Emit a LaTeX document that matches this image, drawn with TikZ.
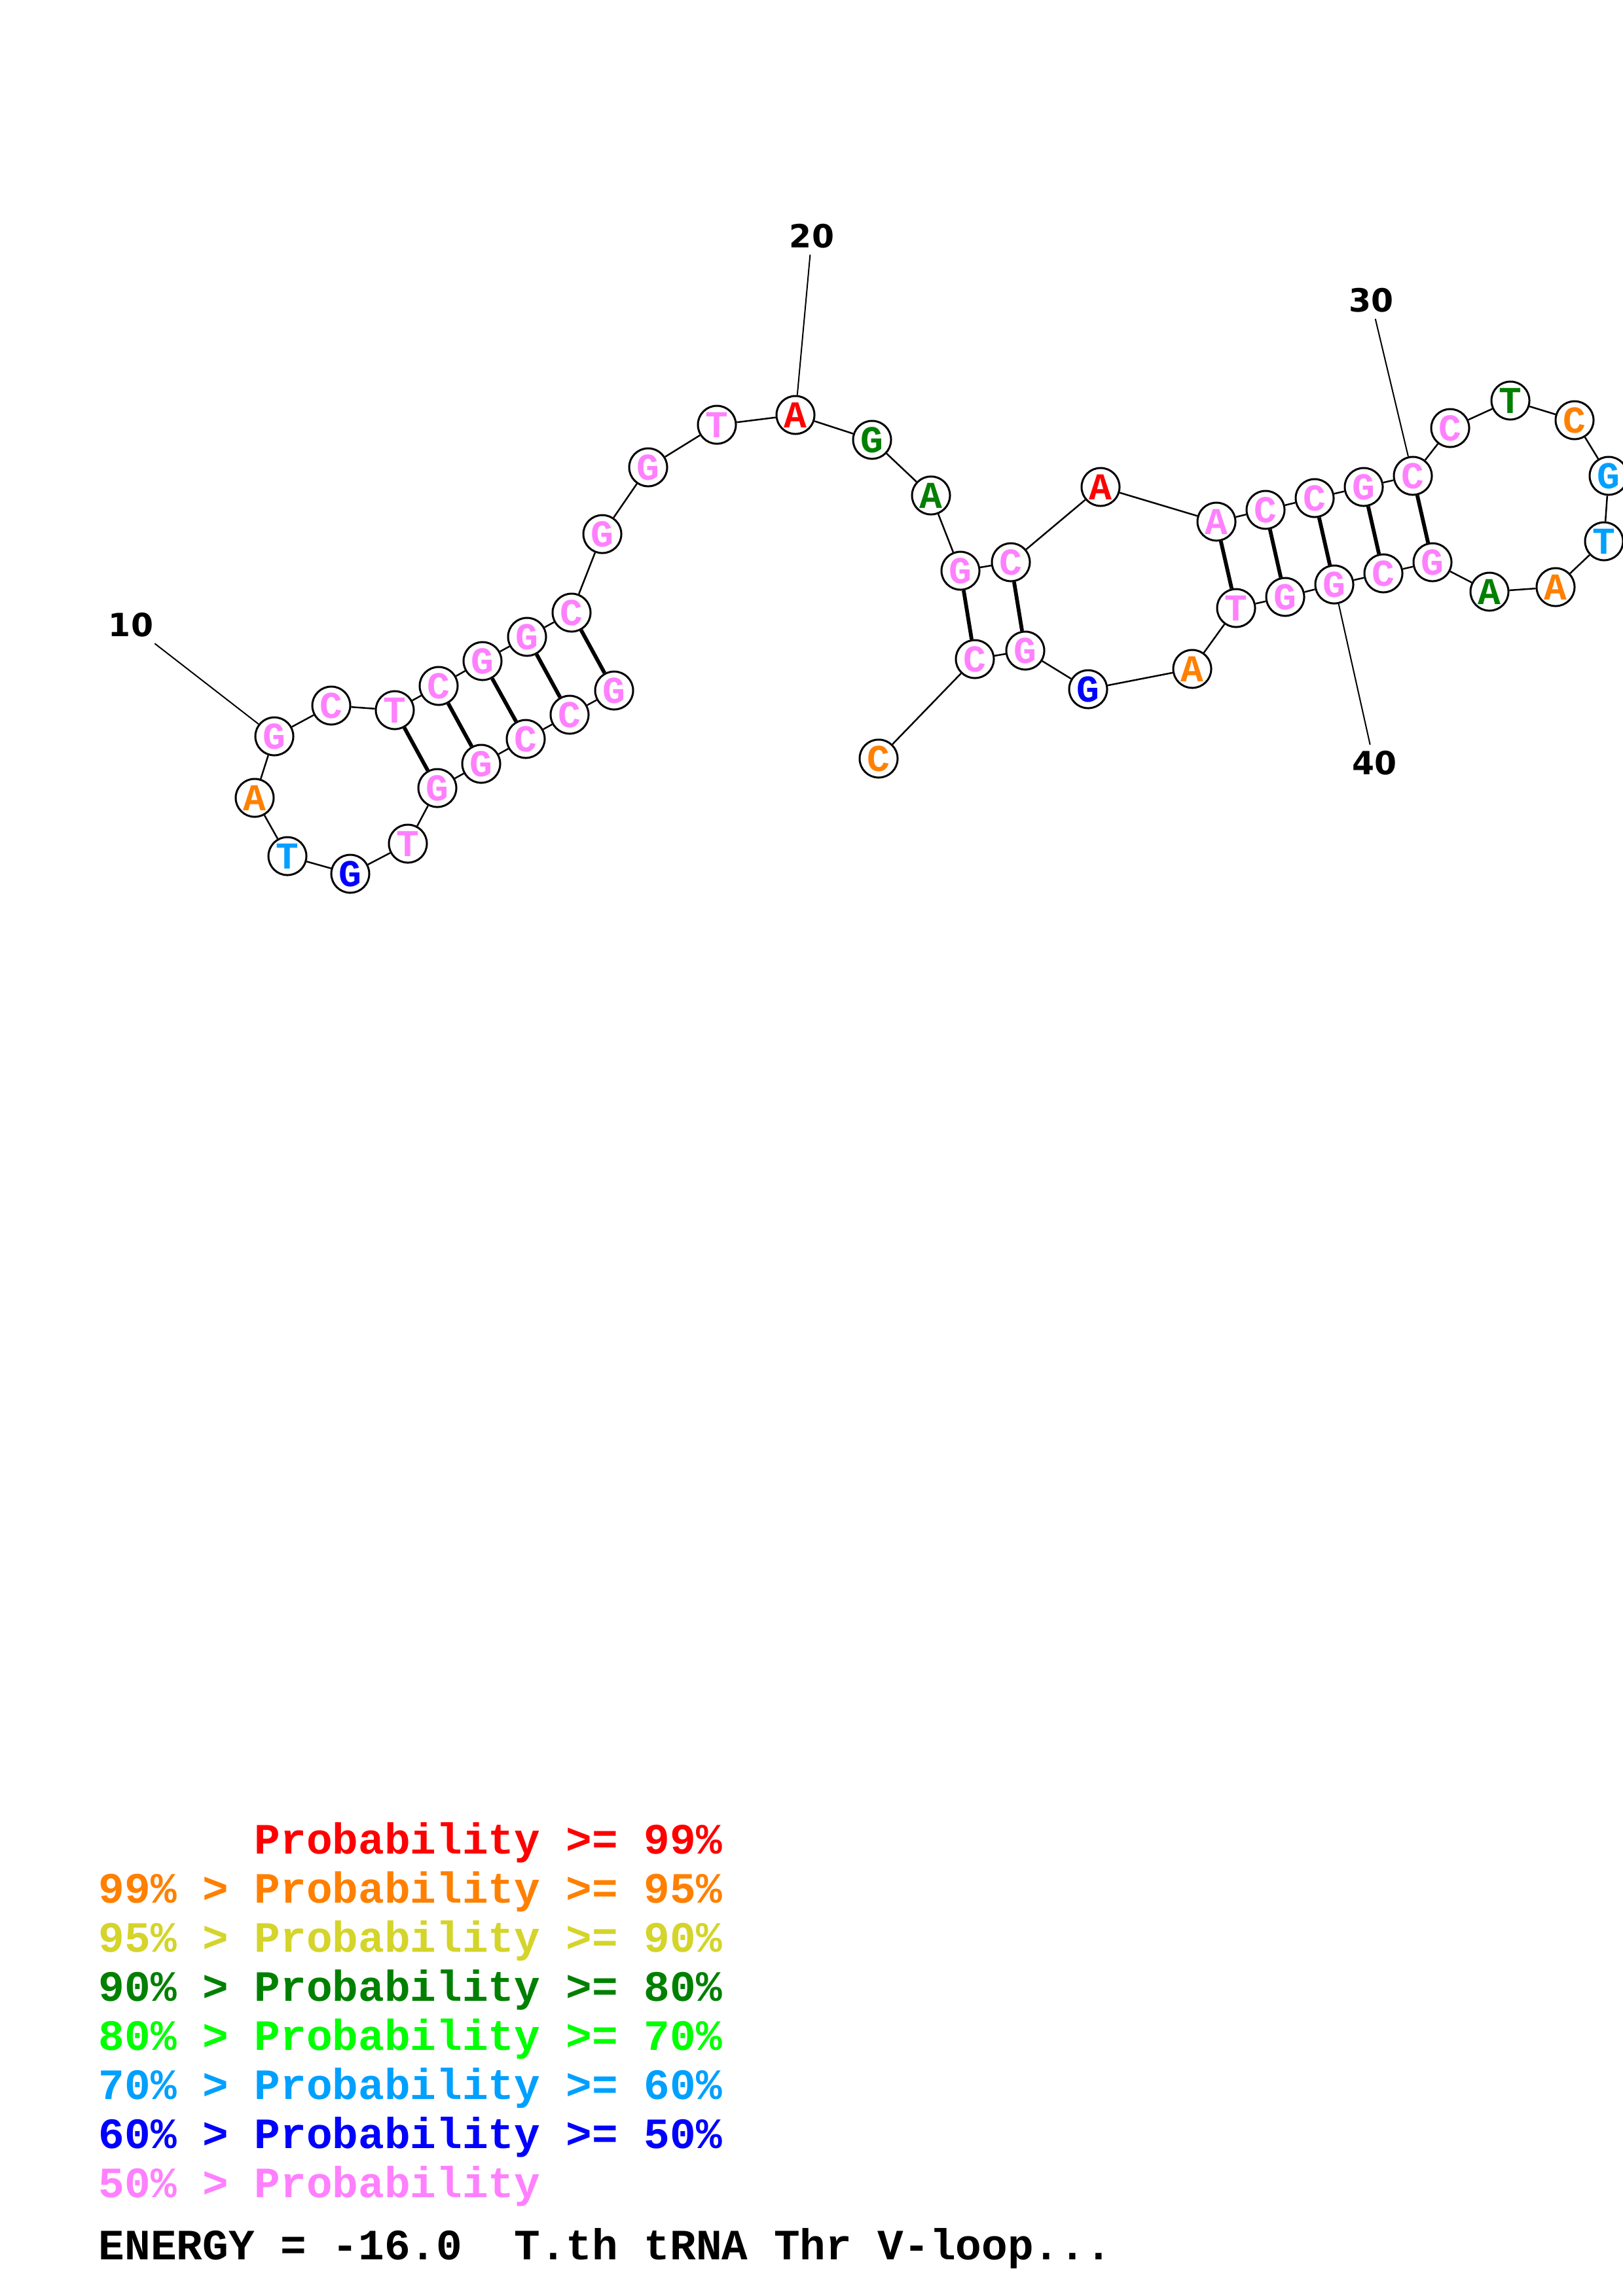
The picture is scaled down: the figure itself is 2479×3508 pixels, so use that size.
\documentclass[tikz,border=0pt]{standalone}
\usepackage{fontspec}
\newfontfamily\seqfont{Liberation Mono}
\newfontfamily\tickfont{DejaVu Sans}

\definecolor{probRed}{RGB}{255,0,0}
\definecolor{probOrange}{RGB}{255,128,0}
\definecolor{probYellow}{RGB}{212,212,42}
\definecolor{probDkGreen}{RGB}{0,128,0}
\definecolor{probGreen}{RGB}{0,255,0}
\definecolor{probCyan}{RGB}{0,160,255}
\definecolor{probBlue}{RGB}{0,0,255}
\definecolor{probPink}{RGB}{255,128,255}

\begin{document}
\begin{tikzpicture}[
    x=0.01cm, y=-0.01cm,
    nuc/.style={circle, draw=black, fill=white, line width=0.03cm, minimum size=0.58cm, inner sep=0pt, font=\seqfont\bfseries\fontsize{16.5}{17}\selectfont},
    backbone/.style={line width=0.025cm},
    pairline/.style={line width=0.058cm},
    numline/.style={line width=0.02cm},
    num/.style={inner sep=0.09cm, font=\tickfont\bfseries\fontsize{13.9}{14}\selectfont},
    legendline/.style={anchor=base west, inner sep=0pt, font=\seqfont\bfseries\fontsize{18.8}{19}\selectfont}
]

\useasboundingbox (0,0) rectangle (2479,3508);
\clip (0,0) rectangle (2479,3508);

% Nodes: left stem and hairpin
\node[nuc, text=probPink] (nt1) at (938,1055) {G};
\node[nuc, text=probPink] (nt2) at (870,1092) {C};
\node[nuc, text=probPink] (nt3) at (803,1129) {C};
\node[nuc, text=probPink] (nt4) at (735,1167) {G};
\node[nuc, text=probPink] (nt5) at (668,1204) {G};
\node[nuc, text=probPink] (nt6) at (623,1289) {T};
\node[nuc, text=probBlue] (nt7) at (535,1335) {G};
\node[nuc, text=probCyan] (nt8) at (439,1308) {T};
\node[nuc, text=probOrange] (nt9) at (389,1219) {A};
\node[nuc, text=probPink] (nt10) at (419,1125) {G};
\node[nuc, text=probPink] (nt11) at (506,1078) {C};
\node[nuc, text=probPink] (nt12) at (603,1085) {T};
\node[nuc, text=probPink] (nt13) at (670,1048) {C};
\node[nuc, text=probPink] (nt14) at (737,1010) {G};
\node[nuc, text=probPink] (nt15) at (805,973) {G};
\node[nuc, text=probPink] (nt16) at (873,936) {C};

% Nodes: top loop
\node[nuc, text=probPink] (nt17) at (920,816) {G};
\node[nuc, text=probPink] (nt18) at (990,714) {G};
\node[nuc, text=probPink] (nt19) at (1095,649) {T};
\node[nuc, text=probRed] (nt20) at (1215,634) {A};
\node[nuc, text=probDkGreen] (nt21) at (1332,672) {G};
\node[nuc, text=probDkGreen] (nt22) at (1422,757) {A};

% Nodes: middle stem and internal loop
\node[nuc, text=probPink] (nt23) at (1467,872) {G};
\node[nuc, text=probPink] (nt24) at (1544,859) {C};
\node[nuc, text=probRed] (nt25) at (1681,744) {A};

% Nodes: right stem and hairpin
\node[nuc, text=probPink] (nt26) at (1858,797) {A};
\node[nuc, text=probPink] (nt27) at (1933,779) {C};
\node[nuc, text=probPink] (nt28) at (2008,761) {C};
\node[nuc, text=probPink] (nt29) at (2083,744) {G};
\node[nuc, text=probPink] (nt30) at (2158,727) {C};
\node[nuc, text=probPink] (nt31) at (2215,654) {C};
\node[nuc, text=probDkGreen] (nt32) at (2307,612) {T};
\node[nuc, text=probOrange] (nt33) at (2405,642) {C};
\node[nuc, text=probCyan] (nt34) at (2457,727) {G};
\node[nuc, text=probCyan] (nt35) at (2450,827) {T};
\node[nuc, text=probOrange] (nt36) at (2376,897) {A};
\node[nuc, text=probDkGreen] (nt37) at (2275,904) {A};
\node[nuc, text=probPink] (nt38) at (2188,859) {G};
\node[nuc, text=probPink] (nt39) at (2113,876) {C};
\node[nuc, text=probPink] (nt40) at (2038,893) {G};
\node[nuc, text=probPink] (nt41) at (1963,912) {G};
\node[nuc, text=probPink] (nt42) at (1888,929) {T};

% Nodes: back to the 3' end
\node[nuc, text=probOrange] (nt43) at (1821,1022) {A};
\node[nuc, text=probBlue] (nt44) at (1662,1053) {G};
\node[nuc, text=probPink] (nt45) at (1566,994) {G};
\node[nuc, text=probPink] (nt46) at (1489,1007) {C};
\node[nuc, text=probOrange] (nt47) at (1342,1159) {C};

% Position numbers
\node[num] (num10) at (200,955) {10};
\node[num] (num20) at (1240,361) {20};
\node[num] (num30) at (2094,459) {30};
\node[num] (num40) at (2099,1166) {40};

% Backbone
\draw[backbone] (nt1) -- (nt2);
\draw[backbone] (nt2) -- (nt3);
\draw[backbone] (nt3) -- (nt4);
\draw[backbone] (nt4) -- (nt5);
\draw[backbone] (nt5) -- (nt6);
\draw[backbone] (nt6) -- (nt7);
\draw[backbone] (nt7) -- (nt8);
\draw[backbone] (nt8) -- (nt9);
\draw[backbone] (nt9) -- (nt10);
\draw[backbone] (nt10) -- (nt11);
\draw[backbone] (nt11) -- (nt12);
\draw[backbone] (nt12) -- (nt13);
\draw[backbone] (nt13) -- (nt14);
\draw[backbone] (nt14) -- (nt15);
\draw[backbone] (nt15) -- (nt16);
\draw[backbone] (nt16) -- (nt17);
\draw[backbone] (nt17) -- (nt18);
\draw[backbone] (nt18) -- (nt19);
\draw[backbone] (nt19) -- (nt20);
\draw[backbone] (nt20) -- (nt21);
\draw[backbone] (nt21) -- (nt22);
\draw[backbone] (nt22) -- (nt23);
\draw[backbone] (nt23) -- (nt24);
\draw[backbone] (nt24) -- (nt25);
\draw[backbone] (nt25) -- (nt26);
\draw[backbone] (nt26) -- (nt27);
\draw[backbone] (nt27) -- (nt28);
\draw[backbone] (nt28) -- (nt29);
\draw[backbone] (nt29) -- (nt30);
\draw[backbone] (nt30) -- (nt31);
\draw[backbone] (nt31) -- (nt32);
\draw[backbone] (nt32) -- (nt33);
\draw[backbone] (nt33) -- (nt34);
\draw[backbone] (nt34) -- (nt35);
\draw[backbone] (nt35) -- (nt36);
\draw[backbone] (nt36) -- (nt37);
\draw[backbone] (nt37) -- (nt38);
\draw[backbone] (nt38) -- (nt39);
\draw[backbone] (nt39) -- (nt40);
\draw[backbone] (nt40) -- (nt41);
\draw[backbone] (nt41) -- (nt42);
\draw[backbone] (nt42) -- (nt43);
\draw[backbone] (nt43) -- (nt44);
\draw[backbone] (nt44) -- (nt45);
\draw[backbone] (nt45) -- (nt46);
\draw[backbone] (nt46) -- (nt47);

% Base pairs
\draw[pairline] (nt1) -- (nt16);
\draw[pairline] (nt2) -- (nt15);
\draw[pairline] (nt3) -- (nt14);
\draw[pairline] (nt4) -- (nt13);
\draw[pairline] (nt5) -- (nt12);
\draw[pairline] (nt23) -- (nt46);
\draw[pairline] (nt24) -- (nt45);
\draw[pairline] (nt26) -- (nt42);
\draw[pairline] (nt27) -- (nt41);
\draw[pairline] (nt28) -- (nt40);
\draw[pairline] (nt29) -- (nt39);
\draw[pairline] (nt30) -- (nt38);

% Number ticks
\draw[numline] (num10) -- (nt10);
\draw[numline] (num20) -- (nt20);
\draw[numline] (num30) -- (nt30);
\draw[numline] (num40) -- (nt40);

% Legend
\node[legendline, text=probRed] (legendA) at (150,2832) {\phantom{99\%~>~}Probability~>=~99\%};
\node[legendline, text=probOrange] (legendB) at (150,2907) {99\%~>~Probability~>=~95\%};
\node[legendline, text=probYellow] (legendC) at (150,2982) {95\%~>~Probability~>=~90\%};
\node[legendline, text=probDkGreen] (legendD) at (150,3057) {90\%~>~Probability~>=~80\%};
\node[legendline, text=probGreen] (legendE) at (150,3132) {80\%~>~Probability~>=~70\%};
\node[legendline, text=probCyan] (legendF) at (150,3207) {70\%~>~Probability~>=~60\%};
\node[legendline, text=probBlue] (legendG) at (150,3282) {60\%~>~Probability~>=~50\%};
\node[legendline, text=probPink] (legendH) at (150,3357) {50\%~>~Probability};
\node[legendline, text=black] (energy) at (150,3452) {ENERGY~=~-16.0~~T.th~tRNA~Thr~V-loop...};

\end{tikzpicture}
\end{document}
